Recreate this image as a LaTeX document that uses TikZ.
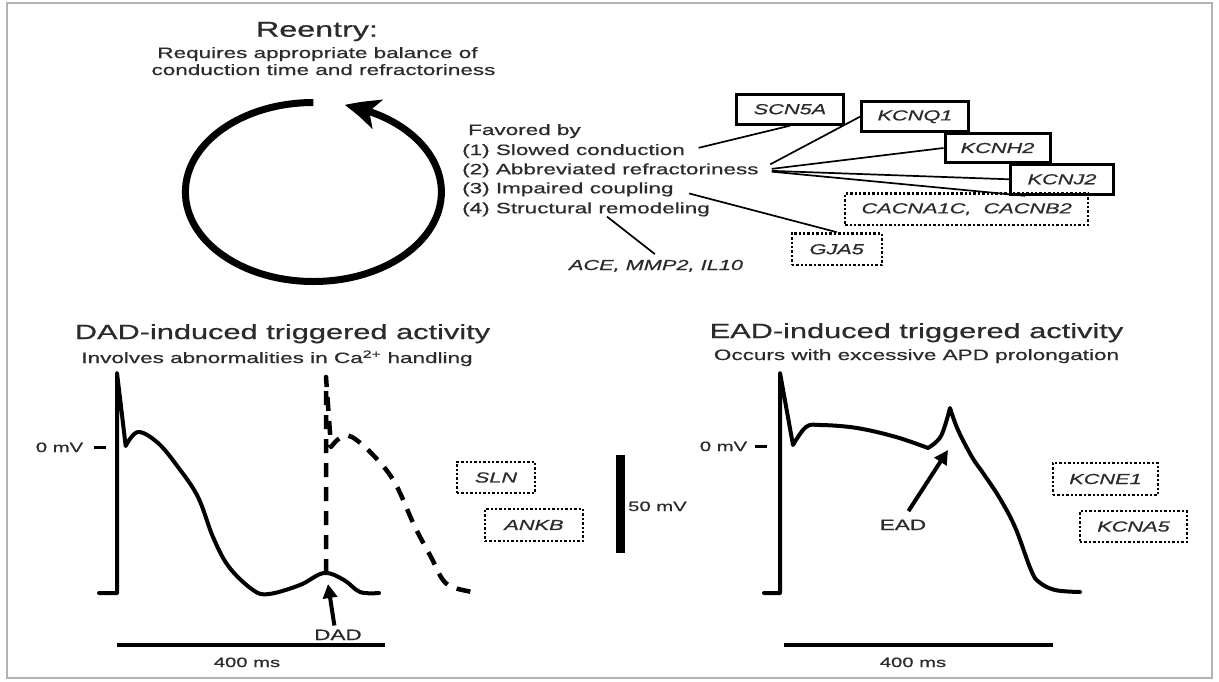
\documentclass[tikz,border=0pt]{standalone}
\usepackage{fontspec}
\setmainfont{Liberation Sans}[FakeStretch=1.5, FakeBold=0.7]
\usetikzlibrary{arrows.meta,bending,calc}

\definecolor{ink}{HTML}{2B2B2B}

\begin{document}
\begin{tikzpicture}[
        x=1pt, y=-1pt,
        every node/.style={inner sep=0pt, text=ink},
        body/.style={font=\fontsize{15}{18}\selectfont},
        head/.style={font=\fontsize{20.5}{24}\selectfont},
        titletext/.style={font=\fontsize{21.5}{26}\selectfont},
        small/.style={font=\fontsize{13.5}{16}\selectfont},
        genetext/.style={font=\fontsize{14.5}{17}\selectfont\itshape},
        gene/.style={genetext, draw=black, line width=3pt, minimum height=30pt},
        dotgene/.style={gene, line width=2.4pt, dash pattern=on 2.4pt off 2pt},
        link/.style={line width=1.7pt},
        trace/.style={line width=4pt, line join=round, line cap=round},
        dtrace/.style={line width=4.5pt, line join=round, dash pattern=on 14pt off 10pt},
        ptr/.style={line width=4pt, -{Triangle[length=14pt,width=14pt]}},
        bar/.style={line width=3.5pt},
        tickmark/.style={line width=3pt},
    ]
    \useasboundingbox (0,0) rectangle (1219,681);
    \draw[gray!60, line width=2.5pt] (7,3) rectangle (1212,678);

    % Reentry panel.
    \node[titletext, anchor=base] (title) at (317,36.7) {Reentry:};
    \node[body, anchor=base] (req1) at (317.5,58) {Requires appropriate balance of};
    \node[body, anchor=base] (req2) at (323.5,75) {conduction time and refractoriness};

    \coordinate (loop) at (313.4,192);
    \draw[line width=7pt, -{Stealth[length=35pt,width=30pt,inset=9pt,bend]}]
        ($(loop)+(270:128 and 89.5)$)
        arc[start angle=270, end angle=-76, x radius=128, y radius=89.5];

    % Substrate list.
    \node[body, anchor=base west] (fav) at (468,135) {Favored by};
    \node[body, anchor=base west] (f1) at (462,155) {(1) Slowed conduction};
    \node[body, anchor=base west] (f2) at (462,174.3) {(2) Abbreviated refractoriness};
    \node[body, anchor=base west] (f3) at (462,193.3) {(3) Impaired coupling};
    \node[body, anchor=base west] (f4) at (462,213.3) {(4) Structural remodeling};

    % Genes.
    \node[gene, minimum width=107pt] (scn5a) at (790,109.2) {SCN5A};
    \node[gene, minimum width=107pt] (kcnq1) at (915,116.7) {KCNQ1};
    \node[gene, minimum width=105pt, minimum height=29.4pt] (kcnh2) at (997.5,148) {KCNH2};
    \node[gene, minimum width=102.6pt] (kcnj2) at (1062,179.3) {KCNJ2};
    \node[dotgene, minimum width=243pt, minimum height=31.7pt] (cacna) at (966.7,209.2) {CACNA1C,~ CACNB2};
    \node[dotgene, minimum width=90pt, minimum height=31.7pt] (gja5) at (836.7,249.2) {GJA5};
    \node[genetext, anchor=base] (ace) at (656,270) {ACE, MMP2, IL10};

    \draw[link, shorten <=14pt] (f1.east) -- (scn5a.south);
    \foreach \g in {kcnq1, kcnh2, kcnj2}
        \draw[link, shorten <=13pt] (f2.east) -- (\g.west);
    \draw[link, shorten <=13pt] (f2.east) -- ($(kcnj2.south west)+(16,0)$);
    \draw[link, shorten <=16pt] (f3.east) -- (gja5.north);
    \draw[link, shorten >=9pt] ([xshift=21pt]f4.south) -- ([xshift=6pt]ace.north);

    % DAD panel.
    \node[head, anchor=base] (dadhead) at (282.5,339) {DAD-induced triggered activity};
    \node[body, anchor=base] (dadsub) at (277,363) {Involves abnormalities in Ca\textsuperscript{2+} handling};

    \draw[trace] (99,593) -- (117,593) -- (117,373) -- (125.7,446)
        -- plot[smooth, tension=.6] coordinates {(125.7,446) (138,432) (158,443)
        (178,467) (198,497) (213,537) (229,567) (253,590) (269,594) (300,585)
        (324,573) (344,580) (360,592) (379,593)};
    \draw[dtrace] (326,573) -- (326,377) -- (331,447)
        -- plot[smooth, tension=.6] coordinates {(331,447) (340,438) (352,437)
        (375,457) (395,483) (415,527) (431,557) (443,580) (455,588) (478,593)};

    \node[small, anchor=base] (zero1) at (59.5,452) {0 mV};
    \draw[tickmark] ($(zero1.east)+(11,0)$) -- ++(12,0);

    \node[body, anchor=base] (dad) at (338,640) {DAD};
    \coordinate (dadpk) at (328,584);
    \draw[ptr, shorten <=4pt] ([xshift=-3pt]dad.north) -- (dadpk);

    \draw[bar] (117,645) -- (385,645);
    \node[small, anchor=base] (ms1) at (247,667) {400 ms};

    \node[dotgene, minimum width=78pt, minimum height=31pt] (sln) at (496,477.5) {SLN};
    \node[dotgene, minimum width=98pt, minimum height=32pt] (ankb) at (534,525) {ANKB};

    % Scale bar.
    \draw[line width=9pt] (620,455) -- (620,553);
    \node[small, anchor=base west] (fifty) at (628,511) {50 mV};

    % EAD panel.
    \node[head, anchor=base] (eadhead) at (916.5,338) {EAD-induced triggered activity};
    \node[body, anchor=base] (eadsub) at (916.5,360) {Occurs with excessive APD prolongation};

    \draw[trace] (764,593) -- (780,593) -- (780,373) -- (793,445)
        -- plot[smooth, tension=.6] coordinates {(793,445) (806,427) (821,425)
        (857,428) (896,437) (928,448)}
        -- plot[smooth, tension=.6] coordinates {(928,448) (941,436) (950,408)}
        -- plot[smooth, tension=.6] coordinates {(950,408) (958,430) (972,457)
        (983,473) (999,497) (1015,527) (1031,570) (1039,582) (1055,590) (1080,592)};

    \node[small, anchor=base] (zero2) at (723.5,451) {0 mV};
    \draw[tickmark] ($(zero2.east)+(8,0)$) -- ++(12,0);

    \node[body, anchor=base] (ead) at (903,530) {EAD};
    \coordinate (eadpk) at (948,450);
    \draw[ptr, shorten <=10pt] (ead.north) -- (eadpk);

    \draw[bar] (784,645) -- (1053,645);
    \node[small, anchor=base] (ms2) at (913,667) {400 ms};

    \node[dotgene, minimum width=105pt, minimum height=32pt] (kcne1) at (1105.5,479) {KCNE1};
    \node[dotgene, minimum width=107pt, minimum height=31pt] (kcna5) at (1133.5,526.5) {KCNA5};
\end{tikzpicture}
\end{document}
